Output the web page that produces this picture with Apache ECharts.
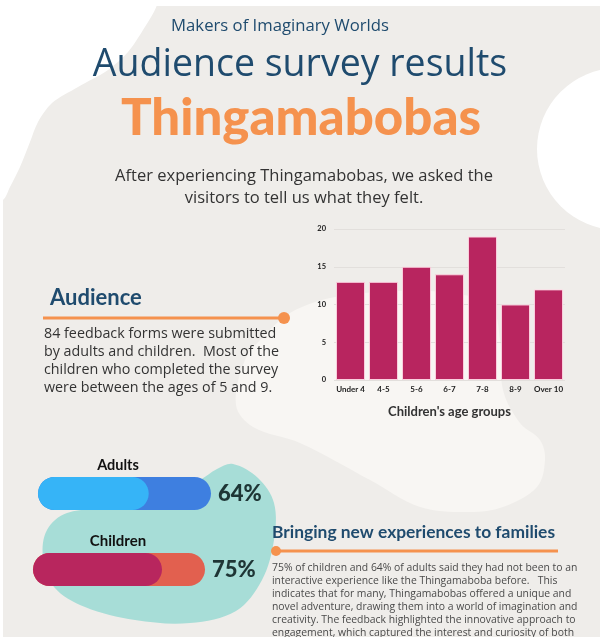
<!DOCTYPE html>
<html><head><meta charset="utf-8">
<script src="https://cdn.jsdelivr.net/npm/echarts@6/dist/echarts.min.js"></script>
<style>html,body{margin:0;padding:0;background:#fff}#c{width:600px;height:637px}</style>
</head><body><div id="c"></div>
<script>
// ---- data ----
const ageGroups = ['Under 4', '4-5', '5-6', '6-7', '7-8', '8-9', 'Over 10'];
const childCounts = [13, 13, 15, 14, 19, 10, 12];
const audienceGroups = ['Adults', 'Children'];
const firstTimePercent = [64, 75];
const yMax = 20, yStep = 5;

const chart = echarts.init(document.getElementById('c'), null, {renderer: 'canvas'});
const navy = '#1f4b6e', orange = '#f5924e', body = '#333333';
const F = '"Open Sans", sans-serif';
const FB = 'Lato, "Open Sans", sans-serif';

const bg = [
  {type: 'rect', shape: {x: 3, y: 6, width: 597, height: 631}, style: {fill: '#efedea'}, z: -10},
  {type: 'polygon', shape: {smooth: 0.3, points: [[0,-20],[160,-20],[157,5],[143,30],[128,52],[108,70],[78,87],[52,103],[38,122],[30,142],[20,167],[10,187],[3,200],[-20,210]]}, style: {fill: '#ffffff'}, z: -9},
  {type: 'circle', shape: {cx: 618, cy: 149, r: 81}, style: {fill: '#ffffff'}, z: -9},
  {type: 'polygon', shape: {smooth: 0.35, points: [[290,313],[330,298],[380,292],[440,292],[490,305],[500,340],[503,390],[520,423],[540,440],[545,460],[537,487],[503,507],[470,512],[420,507],[370,480],[300,443],[253,427],[236,405],[245,360],[263,337]]}, style: {fill: '#f8f6f3'}, z: -8},
  {type: 'polygon', shape: {smooth: 0.35, points: [[233,464],[258,478],[274,503],[274,540],[262,580],[236,611],[190,623],[135,620],[85,607],[54,587],[43,557],[47,530],[67,513],[117,507],[165,497],[200,480],[217,469]]}, style: {fill: '#a7ddd7'}, z: -7}
];

function txt(x, y, text, size, color, weight, align, family) {
  return {type: 'text', x: x, y: y, z: 10, style: {text: text, fontSize: size, fill: color, fontWeight: weight || 'normal', fontFamily: family || F, textAlign: align || 'center', textVerticalAlign: 'middle'}};
}

const para = [
  '75% of children and 64% of adults said they had not been to an',
  'interactive experience like the Thingamaboba before.   This',
  'indicates that for many, Thingamabobas offered a unique and',
  'novel adventure, drawing them into a world of imagination and',
  'creativity. The feedback highlighted the innovative approach to',
  'engagement, which captured the interest and curiosity of both'
];

const texts = [
  txt(280, 26, 'Makers of Imaginary Worlds', 16.7, navy, 'normal'),
  txt(300, 65, 'Audience survey results', 37.5, navy, 'normal'),
  txt(301, 119, 'Thingamabobas', 51, orange, '900', 'center', FB),
  txt(304, 176, 'After experiencing Thingamabobas, we asked the', 16.5, body),
  txt(304, 198, 'visitors to tell us what they felt.', 16.5, body),
  txt(50, 298, 'Audience', 22, navy, 'bold', 'left', FB),
  {type: 'line', shape: {x1: 43, y1: 318, x2: 284, y2: 318}, style: {stroke: orange, lineWidth: 3}, z: 10},
  {type: 'circle', shape: {cx: 284, cy: 318, r: 6}, style: {fill: orange}, z: 10},
  txt(44, 334, '84 feedback forms were submitted', 14.3, body, 'normal', 'left'),
  txt(44, 352, 'by adults and children.  Most of the', 14.3, body, 'normal', 'left'),
  txt(44, 370, 'children who completed the survey', 14.3, body, 'normal', 'left'),
  txt(44, 388, 'were between the ages of 5 and 9.', 14.3, body, 'normal', 'left'),
  txt(118, 465, audienceGroups[0], 14.5, '#111', 'bold', 'center', FB),
  txt(118, 541, audienceGroups[1], 15, '#111', 'bold', 'center', FB),
  txt(272, 532, 'Bringing new experiences to families', 17.4, navy, 'bold', 'left', FB),
  {type: 'line', shape: {x1: 275, y1: 551, x2: 558, y2: 551}, style: {stroke: orange, lineWidth: 3}, z: 10},
  {type: 'circle', shape: {cx: 276, cy: 551, r: 5}, style: {fill: orange}, z: 10}
].concat(para.map(function (l, i) { return txt(272, 568 + i * 13, l, 10.4, '#4a4a4a', 'normal', 'left'); }));

const pillColors = [['#3e7fe0', '#36b4f7'], ['#e2604f', '#b8265e']];
const pillGrids = [
  {left: 38, width: 173, top: 477, height: 33},
  {left: 33, width: 172, top: 553, height: 33}
];

const grids = [{left: 334, right: 35, top: 229, bottom: 257}].concat(pillGrids);
const xAxes = [{
  gridIndex: 0, type: 'category', data: ageGroups,
  axisLine: {show: false}, axisTick: {show: false},
  axisLabel: {interval: 0, fontSize: 8, fontWeight: 'bold', color: '#222', fontFamily: FB, margin: 5},
  name: "Children's age groups", nameLocation: 'middle', nameGap: 25,
  nameTextStyle: {fontSize: 13, fontWeight: 'bold', color: '#333', fontFamily: FB}
}];
const yAxes = [{
  gridIndex: 0, type: 'value', min: 0, max: yMax, interval: yStep,
  axisLine: {show: false}, axisTick: {show: false},
  axisLabel: {fontSize: 7.5, fontWeight: 'bold', color: '#222', fontFamily: FB, margin: 8},
  splitLine: {lineStyle: {color: '#e2dfdc', width: 1}}
}];
const series = [{
  type: 'bar', xAxisIndex: 0, yAxisIndex: 0, data: childCounts,
  barCategoryGap: '12%',
  itemStyle: {color: '#b8255f', borderColor: 'rgba(255,215,228,0.9)', borderWidth: 1}
}];

audienceGroups.forEach(function (g, i) {
  xAxes.push({gridIndex: i + 1, type: 'value', min: 0, max: 100, show: false});
  yAxes.push({gridIndex: i + 1, type: 'category', data: [g], show: false});
  series.push({
    type: 'bar', xAxisIndex: i + 1, yAxisIndex: i + 1, data: [100], barWidth: 33,
    itemStyle: {color: pillColors[i][0], borderRadius: 16.5}, silent: true,
    label: {show: true, position: 'right', distance: 7, formatter: function () { return firstTimePercent[i] + '%'; },
      fontSize: 22, fontWeight: '900', color: '#1e3535', fontFamily: FB}
  });
  series.push({
    type: 'bar', xAxisIndex: i + 1, yAxisIndex: i + 1, data: [firstTimePercent[i]], barWidth: 33, barGap: '-100%',
    itemStyle: {color: pillColors[i][1], borderRadius: 16.5}, silent: true
  });
});

chart.setOption({
  animation: false,
  backgroundColor: '#ffffff',
  grid: grids, xAxis: xAxes, yAxis: yAxes, series: series,
  graphic: bg.concat(texts)
});
</script></body></html>
